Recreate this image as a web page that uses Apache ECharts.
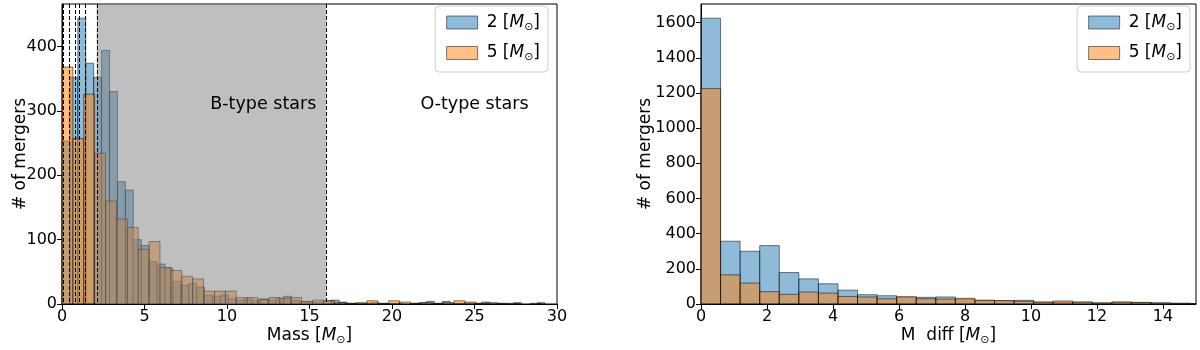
<!DOCTYPE html>
<html>
<head>
<meta charset="utf-8">
<script src="https://cdn.jsdelivr.net/npm/echarts@6/dist/echarts.min.js"></script>
<style>
  html, body { margin: 0; padding: 0; background: #fff; }
  #chart { width: 1200px; height: 350px; }
</style>
</head>
<body>
<div id="chart"></div>
<script>
// left panel: merger mass histograms (the two runs use different bin widths)
const massBinBlue = 0.48
const massBinOrange = 0.66
const massBlue = [253, 352, 444, 374, 352, 394, 330, 190, 177, 100, 91, 66, 62, 56, 35, 29, 32, 26, 14, 12,
  14, 8, 6, 8, 5, 8, 6, 9, 12, 6, 4, 3, 2, 5, 6, 3, 1, 1, 1, 2,
  1, 1, 1, 0, 1, 2, 4, 1, 4, 1, 1, 1, 1, 3, 1, 1, 0, 2, 0, 0, 2]
const massOrange = [368, 257, 326, 234, 160, 132, 119, 85, 97, 57, 52, 43, 39, 20, 20, 20, 10, 10, 7, 10,
  9, 10, 4, 6, 5, 2, 1, 2, 5, 1, 5, 3, 1, 2, 1, 2, 5, 3, 1, 2, 1, 1, 0, 1]
const classLimits = [0.08, 0.45, 0.8, 1.04, 1.4, 2.1, 16]
const bTypeRange = [2.1, 16]
const regionLabels = [[12.2, 310, 'B-type stars'], [25, 310, 'O-type stars']]
const massTicks = [0, 5, 10, 15, 20, 25, 30]
const countTicksLeft = [0, 100, 200, 300, 400]

// right panel: mass difference
const diffBin = 0.593
const diffBlue = [1625, 357, 300, 332, 179, 143, 115, 79, 53, 47, 38, 38, 40, 28, 21, 19, 21, 11, 11, 11, 6, 11, 9, 6, 4, 2]
const diffOrange = [1225, 166, 119, 70, 55, 68, 62, 43, 40, 30, 42, 30, 28, 32, 21, 19, 15, 11, 17, 11, 6, 11, 9, 6, 4, 2]
const diffTicks = [0, 2, 4, 6, 8, 10, 12, 14]
const countTicksRight = [0, 200, 400, 600, 800, 1000, 1200, 1400, 1600]

const legendLabels = { m2: '2', m5: '5', d2: '2', d5: '5' }

const BLUE = 'rgba(31,119,180,0.5)'
const ORANGE = 'rgba(255,127,14,0.5)'
const EDGE = 'rgba(0,0,0,0.5)'
const FONT = 'DejaVu Sans'

const sunRich = {
  i: { fontStyle: 'italic', fontSize: 17, fontFamily: FONT, color: '#000' },
  s: { fontSize: 11, fontFamily: FONT, color: '#000', padding: [9, 0, 0, 0] },
}

function toBins(counts, width) {
  return counts.map((v, i) => [i * width, (i + 1) * width, v])
}

function histItem(fill) {
  return function (params, api) {
    const v = api.value(2)
    if (!v) return null
    const p0 = api.coord([api.value(0), v])
    const p1 = api.coord([api.value(1), 0])
    const cs = params.coordSys
    const shape = echarts.graphic.clipRectByRect(
      { x: p0[0], y: p0[1], width: p1[0] - p0[0], height: p1[1] - p0[1] },
      { x: cs.x, y: cs.y, width: cs.width, height: cs.height }
    )
    if (!shape) return null
    return { type: 'rect', shape, style: { fill, stroke: EDGE, lineWidth: 1 } }
  }
}

function histSeries(name, counts, width, fill, axis) {
  return {
    name,
    type: 'custom',
    xAxisIndex: axis,
    yAxisIndex: axis,
    renderItem: histItem(fill),
    itemStyle: { color: fill, borderColor: EDGE, borderWidth: 1 },
    encode: { x: [0, 1], y: 2 },
    data: toBins(counts, width),
    z: 2,
  }
}

function legendText(name) {
  return legendLabels[name] + ' [{i|M}{s|⊙}]'
}

function makeLegend(names, right) {
  return {
    orient: 'vertical',
    right,
    top: 6,
    icon: 'rect',
    itemWidth: 31,
    itemHeight: 13,
    itemGap: 12,
    padding: [8, 8, 9, 11],
    borderColor: '#cccccc',
    borderWidth: 1,
    borderRadius: 4,
    backgroundColor: 'rgba(255,255,255,0.8)',
    selectedMode: false,
    data: [
      { name: names[0], itemStyle: { color: BLUE, borderColor: EDGE, borderWidth: 1 } },
      { name: names[1], itemStyle: { color: ORANGE, borderColor: EDGE, borderWidth: 1 } },
    ],
    formatter: legendText,
    textStyle: { fontSize: 17, color: '#000', fontFamily: FONT, padding: [0, 0, 0, 4], rich: sunRich },
  }
}

function xAxisCfg(idx, max, ticks, name) {
  return {
    type: 'value',
    gridIndex: idx,
    min: 0,
    max,
    name,
    nameLocation: 'middle',
    nameGap: 22,
    nameMoveOverlap: false,
    nameTextStyle: { fontSize: 17, color: '#000', fontFamily: FONT, rich: sunRich },
    axisLine: { lineStyle: { color: '#000' } },
    axisTick: { length: 5, inside: false, lineStyle: { color: '#000' }, customValues: ticks },
    axisLabel: { fontSize: 16, color: '#000', margin: 5, customValues: ticks },
    splitLine: { show: false },
  }
}

function yAxisCfg(idx, max, ticks, gap) {
  return {
    type: 'value',
    gridIndex: idx,
    min: 0,
    max,
    name: '# of mergers',
    nameLocation: 'middle',
    nameGap: gap,
    nameMoveOverlap: false,
    nameTextStyle: { fontSize: 17, color: '#000', fontFamily: FONT },
    axisLine: { show: true, lineStyle: { color: '#000' } },
    axisTick: { show: true, length: 5, lineStyle: { color: '#000' }, customValues: ticks },
    axisLabel: { fontSize: 16, color: '#000', margin: 5, customValues: ticks, formatter: v => String(v) },
    splitLine: { show: false },
  }
}

const chart = echarts.init(document.getElementById('chart'))

chart.setOption({
  animation: false,
  textStyle: { fontFamily: FONT },
  grid: [
    { left: 62, right: 643, top: 4, bottom: 46, outerBoundsMode: 'none', show: true, borderColor: '#000', borderWidth: 1 },
    { left: 701, right: 4, top: 4, bottom: 46, outerBoundsMode: 'none', show: true, borderColor: '#000', borderWidth: 1 },
  ],
  xAxis: [
    xAxisCfg(0, 30, massTicks, 'Mass [{i|M}{s|⊙}]'),
    xAxisCfg(1, 15, diffTicks, 'M  diff [{i|M}{s|⊙}]'),
  ],
  yAxis: [
    yAxisCfg(0, 466, countTicksLeft, 33),
    yAxisCfg(1, 1706, countTicksRight, 47),
  ],
  legend: [
    makeLegend(['m2', 'm5'], 652),
    makeLegend(['d2', 'd5'], 10),
  ],
  series: [
    histSeries('m2', massBlue, massBinBlue, BLUE, 0),
    histSeries('m5', massOrange, massBinOrange, ORANGE, 0),
    {
      // B-type band, drawn over the bars like the original
      type: 'custom',
      xAxisIndex: 0,
      yAxisIndex: 0,
      z: 3,
      silent: true,
      data: [bTypeRange],
      renderItem(params, api) {
        const a = api.coord([api.value(0), 0])
        const b = api.coord([api.value(1), 0])
        const top = params.coordSys.y
        return {
          type: 'rect',
          shape: { x: a[0], y: top, width: b[0] - a[0], height: a[1] - top },
          style: { fill: 'rgba(128,128,128,0.5)' },
        }
      },
    },
    {
      type: 'custom',
      xAxisIndex: 0,
      yAxisIndex: 0,
      z: 4,
      silent: true,
      data: classLimits.map(v => [v]),
      renderItem(params, api) {
        const p = api.coord([api.value(0), 0])
        const x = Math.round(p[0]) + 0.5
        return {
          type: 'line',
          shape: { x1: x, y1: params.coordSys.y, x2: x, y2: p[1] },
          style: { stroke: '#000', lineWidth: 1, lineDash: [4, 2] },
        }
      },
    },
    {
      type: 'custom',
      xAxisIndex: 0,
      yAxisIndex: 0,
      z: 5,
      silent: true,
      data: regionLabels,
      renderItem(params, api) {
        const p = api.coord([api.value(0), api.value(1)])
        return {
          type: 'text',
          style: {
            text: regionLabels[params.dataIndex][2],
            x: p[0],
            y: p[1],
            fill: '#000',
            font: '17.5px "DejaVu Sans"',
            align: 'center',
            verticalAlign: 'middle',
          },
        }
      },
    },
    histSeries('d2', diffBlue, diffBin, BLUE, 1),
    histSeries('d5', diffOrange, diffBin, ORANGE, 1),
  ],
})
</script>
</body>
</html>
